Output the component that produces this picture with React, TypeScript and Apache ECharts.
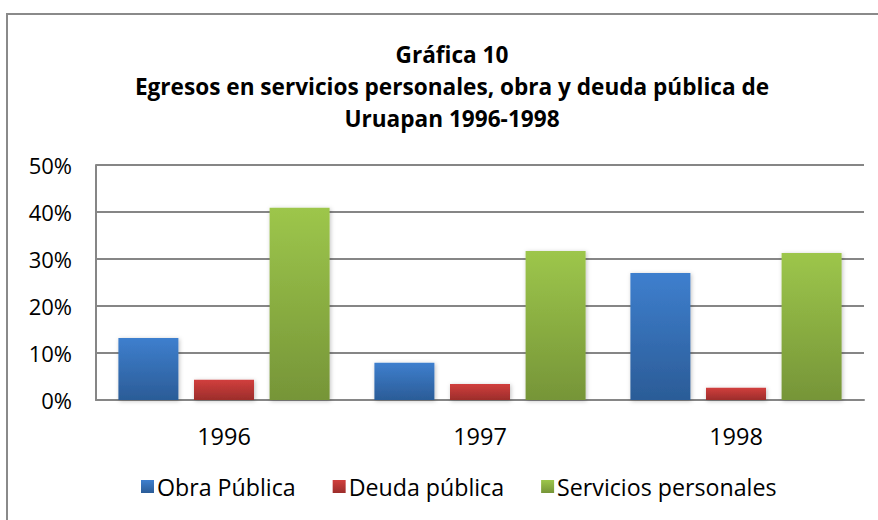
import React, { useEffect, useRef } from "react";
import * as echarts from "echarts";

const categories = ["1996", "1997", "1998"];
const obraPublica = [0.132, 0.079, 0.270];
const deudaPublica = [0.043, 0.034, 0.026];
const serviciosPersonales = [0.409, 0.317, 0.313];
const seriesNames = ["Obra Pública", "Deuda pública", "Servicios personales"];
const titleLines = [
  "Gráfica 10",
  "Egresos en servicios personales, obra y deuda pública de",
  "Uruapan 1996-1998",
];

const FONT = "'Open Sans', 'Noto Sans', sans-serif";

function grad(top: string, bottom: string) {
  return new echarts.graphic.LinearGradient(0, 0, 0, 1, [
    { offset: 0, color: top },
    { offset: 1, color: bottom },
  ]);
}

export default function App() {
  const ref = useRef<HTMLDivElement>(null);
  useEffect(() => {
    document.body.style.margin = "0";
    const chart = echarts.init(ref.current!, null, { renderer: "svg" });
    const mk = (name: string, data: number[], top: string, bottom: string) => ({
      name,
      type: "bar",
      data,
      barWidth: 60,
      barGap: "26%",
      itemStyle: {
        color: grad(top, bottom),
        shadowColor: "rgba(0,0,0,0.25)",
        shadowBlur: 4,
        shadowOffsetX: 1,
        shadowOffsetY: 1,
      },
    });
    chart.setOption({
      animation: false,
      backgroundColor: "#ffffff",
      title: {
        text: titleLines.join("\n"),
        left: 447,
        textAlign: "center",
        top: 33,
        textStyle: {
          fontFamily: FONT,
          fontWeight: "bold",
          fontSize: 22.6,
          lineHeight: 32,
          color: "#000",
        },
      },
      graphic: [
        {
          type: "rect",
          shape: { x: 7, y: 14, width: 900, height: 600 },
          style: { fill: "none", stroke: "#8a8a8a", lineWidth: 2 },
          silent: true,
          z: 100,
        },
      ],
      grid: { left: 96, top: 165, right: 14, bottom: 120 },
      legend: {
        data: seriesNames,
        top: 470,
        left: 136,
        icon: "rect",
        itemWidth: 13,
        itemHeight: 13,
        itemGap: 37,
        textStyle: { fontFamily: FONT, fontSize: 23.2, color: "#000", padding: [0, 0, 0, -2] },
      },
      xAxis: {
        type: "category",
        data: categories,
        axisLine: { show: true, lineStyle: { color: "#868686", width: 2 } },
        axisTick: { show: false },
        axisLabel: { fontFamily: FONT, fontSize: 23.5, color: "#000", margin: 24 },
      },
      yAxis: {
        type: "value",
        min: 0,
        max: 0.5,
        interval: 0.1,
        axisLine: { show: true, lineStyle: { color: "#868686", width: 2 } },
        axisTick: { show: false },
        splitLine: { lineStyle: { color: "#868686", width: 2 } },
        axisLabel: {
          fontFamily: FONT,
          fontSize: 22,
          color: "#000",
          margin: 24,
          formatter: (v: number) => Math.round(v * 100) + "%",
        },
      },
      series: [
        mk(seriesNames[0], obraPublica, "#3e7fce", "#2b5c97"),
        mk(seriesNames[1], deudaPublica, "#d13f3d", "#9c2d2b"),
        mk(seriesNames[2], serviciosPersonales, "#9dc64b", "#769538"),
      ],
    });
    return () => chart.dispose();
  }, []);
  return <div ref={ref} style={{ width: 878, height: 520 }} />;
}
